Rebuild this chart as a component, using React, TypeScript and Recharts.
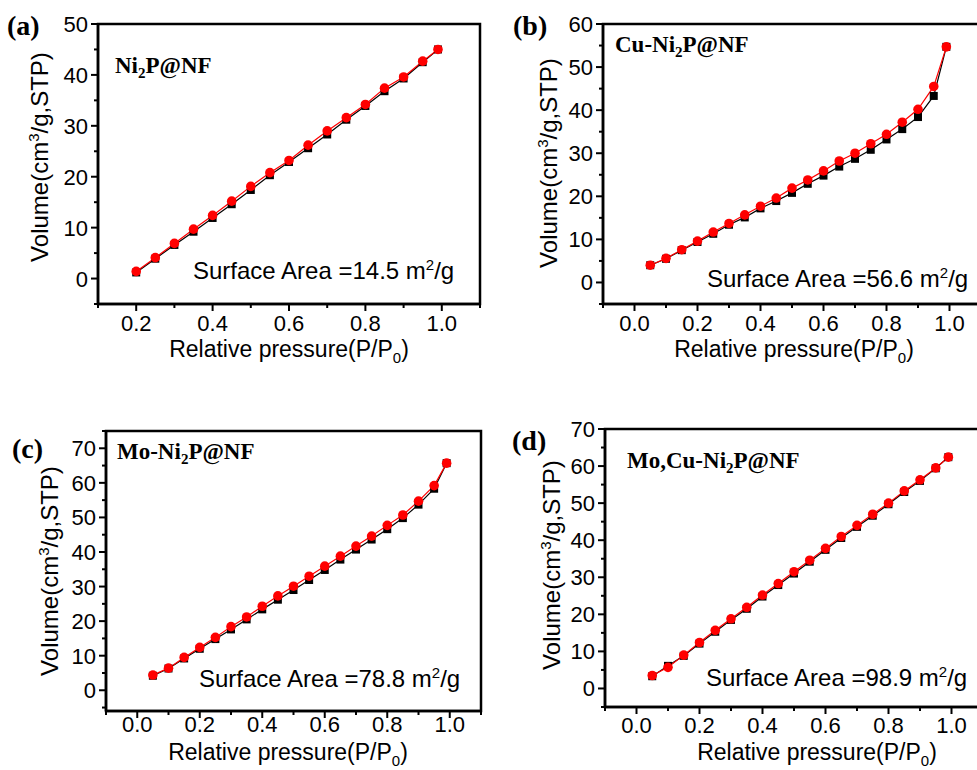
import React from 'react';
import { ComposedChart, Line, XAxis, YAxis, ReferenceArea, Customized } from 'recharts';

// ---- Relative pressure points (P/P0) ----
const pressuresA = [0.2, 0.25, 0.3, 0.35, 0.4, 0.45, 0.5, 0.55, 0.6, 0.65, 0.7, 0.75, 0.8, 0.85, 0.9, 0.95, 0.99];
const pressuresBCD = [0.05, 0.1, 0.15, 0.2, 0.25, 0.3, 0.35, 0.4, 0.45, 0.5, 0.55, 0.6, 0.65, 0.7, 0.75, 0.8, 0.85, 0.9, 0.95, 0.99];

// ---- Adsorbed volume, cm3/g STP (ads = adsorption branch, des = desorption branch) ----
const ni2pAds = [1.2, 3.9, 6.6, 9.2, 11.9, 14.6, 17.4, 20.3, 22.9, 25.6, 28.3, 31.2, 33.9, 36.8, 39.3, 42.5, 45.0];
const ni2pDes = [1.4, 4.1, 6.9, 9.7, 12.4, 15.2, 18.1, 20.8, 23.2, 26.2, 29.0, 31.6, 34.2, 37.4, 39.6, 42.7, 45.0];

const cuNi2pAds = [4.0, 5.5, 7.5, 9.4, 11.3, 13.4, 15.1, 17.2, 18.9, 20.8, 22.9, 24.8, 26.9, 28.7, 30.8, 33.2, 35.6, 38.4, 43.3, 54.7];
const cuNi2pDes = [4.0, 5.6, 7.6, 9.6, 11.7, 13.7, 15.7, 17.7, 19.6, 21.9, 23.8, 25.9, 28.2, 30.0, 32.2, 34.4, 37.2, 40.2, 45.5, 54.7];

const moNi2pAds = [4.2, 6.3, 9.2, 12.0, 14.8, 17.6, 20.5, 23.4, 26.2, 29.0, 31.9, 34.8, 37.8, 40.7, 43.6, 46.6, 49.8, 53.7, 58.3, 65.7];
const moNi2pDes = [4.4, 6.4, 9.5, 12.4, 15.3, 18.4, 21.2, 24.3, 27.3, 30.1, 33.0, 35.9, 38.8, 41.7, 44.6, 47.7, 50.7, 54.7, 59.2, 65.7];

const moCuNi2pAds = [3.3, 6.1, 8.8, 12.1, 15.3, 18.5, 21.5, 24.8, 27.9, 31.0, 34.2, 37.4, 40.6, 43.6, 46.6, 49.7, 53.0, 56.0, 59.4, 62.4];
const moCuNi2pDes = [3.5, 5.7, 9.0, 12.4, 15.7, 18.8, 21.9, 25.2, 28.3, 31.5, 34.6, 37.8, 41.0, 44.0, 47.0, 50.0, 53.3, 56.3, 59.5, 62.4];

// ---- Tick values ----
const xMajorA = [0.2, 0.4, 0.6, 0.8, 1.0];
const xMinorA = [0.1, 0.3, 0.5, 0.7, 0.9, 1.1];
const xMajor = [0.0, 0.2, 0.4, 0.6, 0.8, 1.0];
const xMinor = [-0.1, 0.1, 0.3, 0.5, 0.7, 0.9, 1.1];
const yMajorA = [0, 10, 20, 30, 40, 50];
const yMinorA = [-5, 5, 15, 25, 35, 45];
const yMajorB = [0, 10, 20, 30, 40, 50, 60];
const yMinorB = [-5, 5, 15, 25, 35, 45, 55];
const yMajorCD = [0, 10, 20, 30, 40, 50, 60, 70];
const yMinorC = [-5, 5, 15, 25, 35, 45, 55, 65, 75];
const yMinorD = [-5, 5, 15, 25, 35, 45, 55, 65];

// ---- Text ----
const panelTags = ['(a)', '(b)', '(c)', '(d)'];
const sampleNames = [
  ['Ni', '2', 'P@NF'],
  ['Cu-Ni', '2', 'P@NF'],
  ['Mo-Ni', '2', 'P@NF'],
  ['Mo,Cu-Ni', '2', 'P@NF'],
];
const surfaceAreas = ['14.5', '56.6', '78.8', '98.9'];

const PAGE_W = 977;
const PAGE_H = 770;
const CHART_W = 1000;
const Y_AXIS_W = 60;
const X_AXIS_H = 40;
const SANS = '"Liberation Sans", Arial, sans-serif';
const SERIF = '"Liberation Serif", "Times New Roman", serif';

type Layout = {
  box: { left: number; top: number; right: number; bottom: number };
  tickOff: number;
  tag: [number, number];
  name: [number, number];
  area: [number, number];
  yLabel: [number, number];
  xLabel: [number, number];
};

const layouts: Layout[] = [
  { box: { left: 98, top: 24, right: 480, bottom: 304 }, tickOff: 27, tag: [7, 35], name: [115, 73], area: [193, 279], yLabel: [48, 157], xLabel: [289, 357] },
  { box: { left: 603, top: 24, right: 981, bottom: 304 }, tickOff: 27, tag: [513, 35], name: [615, 52], area: [707, 287], yLabel: [557, 163], xLabel: [794, 357] },
  { box: { left: 106, top: 431, right: 481, bottom: 711 }, tickOff: 21, tag: [12, 458], name: [117, 459], area: [199, 687], yLabel: [58, 571], xLabel: [288, 760] },
  { box: { left: 605, top: 429, right: 983, bottom: 707 }, tickOff: 26, tag: [512, 450], name: [627, 468], area: [706, 686], yLabel: [560, 565], xLabel: [817, 760] },
];

type PanelSpec = {
  pressures: number[];
  ads: number[];
  des: number[];
  xDomain: [number, number];
  yDomain: [number, number];
  xMajor: number[];
  xMinor: number[];
  yMajor: number[];
  yMinor: number[];
};

const panels: PanelSpec[] = [
  { pressures: pressuresA, ads: ni2pAds, des: ni2pDes, xDomain: [0.1, 1.1], yDomain: [-5, 50], xMajor: xMajorA, xMinor: xMinorA, yMajor: yMajorA, yMinor: yMinorA },
  { pressures: pressuresBCD, ads: cuNi2pAds, des: cuNi2pDes, xDomain: [-0.1, 1.1], yDomain: [-5, 60], xMajor, xMinor, yMajor: yMajorB, yMinor: yMinorB },
  { pressures: pressuresBCD, ads: moNi2pAds, des: moNi2pDes, xDomain: [-0.1, 1.1], yDomain: [-6, 75], xMajor, xMinor, yMajor: yMajorCD, yMinor: yMinorC },
  { pressures: pressuresBCD, ads: moCuNi2pAds, des: moCuNi2pDes, xDomain: [-0.1, 1.1], yDomain: [-5, 70], xMajor, xMinor, yMajor: yMajorCD, yMinor: yMinorD },
];

const byValue = (a: number, b: number) => a - b;

function Panel({ spec, layout, index }: { spec: PanelSpec; layout: Layout; index: number }) {
  const rows = spec.pressures.map((p, i) => ({ p, ads: spec.ads[i], des: spec.des[i] }));
  const { box } = layout;
  const margin = {
    left: box.left - Y_AXIS_W,
    top: box.top,
    right: CHART_W - box.right,
    bottom: PAGE_H - box.bottom - X_AXIS_H,
  };
  const xTicks = [...spec.xMajor, ...spec.xMinor].sort(byValue);
  const yTicks = [...spec.yMajor, ...spec.yMinor].sort(byValue);

  const renderXTick = (props: any) => {
    const { x, y, payload } = props;
    const v = payload.value as number;
    const major = spec.xMajor.includes(v);
    return (
      <g key={`xt-${v}`}>
        <line x1={x} x2={x} y1={y} y2={y + (major ? 7 : 4)} stroke="#000" strokeWidth={2} />
        {major && (
          <text x={x} y={y + layout.tickOff} textAnchor="middle" fontSize={22} fontFamily={SANS} fill="#000">
            {v.toFixed(1)}
          </text>
        )}
      </g>
    );
  };

  const renderYTick = (props: any) => {
    const { x, y, payload } = props;
    const v = payload.value as number;
    const major = spec.yMajor.includes(v);
    return (
      <g key={`yt-${v}`}>
        <line x1={x} x2={x - (major ? 7 : 4)} y1={y} y2={y} stroke="#000" strokeWidth={2} />
        {major && (
          <text x={x - 10} y={y + 8} textAnchor="end" fontSize={22} fontFamily={SANS} fill="#000">
            {String(v)}
          </text>
        )}
      </g>
    );
  };

  const square = (props: any) => (
    <rect key={`sq-${props.index}`} x={props.cx - 4} y={props.cy - 4} width={8} height={8} fill="#000" />
  );
  const circle = (props: any) => (
    <circle key={`ci-${props.index}`} cx={props.cx} cy={props.cy} r={4.8} fill="#f00" />
  );

  const name = sampleNames[index];
  const annotations = () => (
    <g>
      <text x={layout.tag[0]} y={layout.tag[1]} fontSize={28} fontWeight="bold" fontFamily={SERIF} fill="#000">
        {panelTags[index]}
      </text>
      <text x={layout.name[0]} y={layout.name[1]} fontSize={23} fontWeight="bold" fontFamily={SERIF} fill="#000">
        <tspan>{name[0]}</tspan>
        <tspan fontSize={15} dy={5}>{name[1]}</tspan>
        <tspan dy={-5}>{name[2]}</tspan>
      </text>
      <text x={layout.area[0]} y={layout.area[1]} fontSize={24} fontFamily={SANS} fill="#000">
        <tspan>{`Surface Area =${surfaceAreas[index]} m`}</tspan>
        <tspan fontSize={15} dy={-9}>2</tspan>
        <tspan dy={9}>/g</tspan>
      </text>
      <text
        x={layout.yLabel[0]}
        y={layout.yLabel[1]}
        transform={`rotate(-90, ${layout.yLabel[0]}, ${layout.yLabel[1]})`}
        textAnchor="middle"
        fontSize={24}
        fontFamily={SANS}
        fill="#000"
      >
        <tspan>Volume(cm</tspan>
        <tspan fontSize={15} dy={-9}>3</tspan>
        <tspan dy={9}>/g,STP)</tspan>
      </text>
      <text x={layout.xLabel[0]} y={layout.xLabel[1]} textAnchor="middle" fontSize={23} fontFamily={SANS} fill="#000">
        <tspan>Relative pressure(P/P</tspan>
        <tspan fontSize={15} dy={6}>0</tspan>
        <tspan dy={-6}>)</tspan>
      </text>
    </g>
  );

  return (
    <div style={{ position: 'absolute', left: 0, top: 0 }}>
      <ComposedChart width={CHART_W} height={PAGE_H} data={rows} margin={margin}>
        <XAxis
          type="number"
          dataKey="p"
          domain={spec.xDomain}
          ticks={xTicks}
          interval={0}
          allowDataOverflow
          height={X_AXIS_H}
          tickLine={false}
          tickSize={0}
          tickMargin={0}
          tick={renderXTick}
          axisLine={{ stroke: '#000', strokeWidth: 2.5 }}
        />
        <YAxis
          type="number"
          domain={spec.yDomain}
          ticks={yTicks}
          interval={0}
          allowDataOverflow
          width={Y_AXIS_W}
          tickLine={false}
          tickSize={0}
          tickMargin={0}
          tick={renderYTick}
          axisLine={{ stroke: '#000', strokeWidth: 2.5 }}
        />
        <ReferenceArea
          x1={spec.xDomain[0]}
          x2={spec.xDomain[1]}
          y1={spec.yDomain[0]}
          y2={spec.yDomain[1]}
          fill="none"
          fillOpacity={0}
          stroke="#000"
          strokeWidth={2.5}
          ifOverflow="visible"
        />
        <Line
          type="linear"
          dataKey="ads"
          stroke="#000"
          strokeWidth={1.2}
          dot={square}
          activeDot={false}
          isAnimationActive={false}
        />
        <Line
          type="linear"
          dataKey="des"
          stroke="#f00"
          strokeWidth={1.2}
          dot={circle}
          activeDot={false}
          isAnimationActive={false}
        />
        <Customized component={annotations} />
      </ComposedChart>
    </div>
  );
}

export default function App() {
  return (
    <div
      style={{
        position: 'absolute',
        left: 0,
        top: 0,
        width: PAGE_W,
        height: PAGE_H,
        overflow: 'hidden',
        background: '#fff',
      }}
    >
      {panels.map((spec, i) => (
        <Panel key={panelTags[i]} spec={spec} layout={layouts[i]} index={i} />
      ))}
    </div>
  );
}
